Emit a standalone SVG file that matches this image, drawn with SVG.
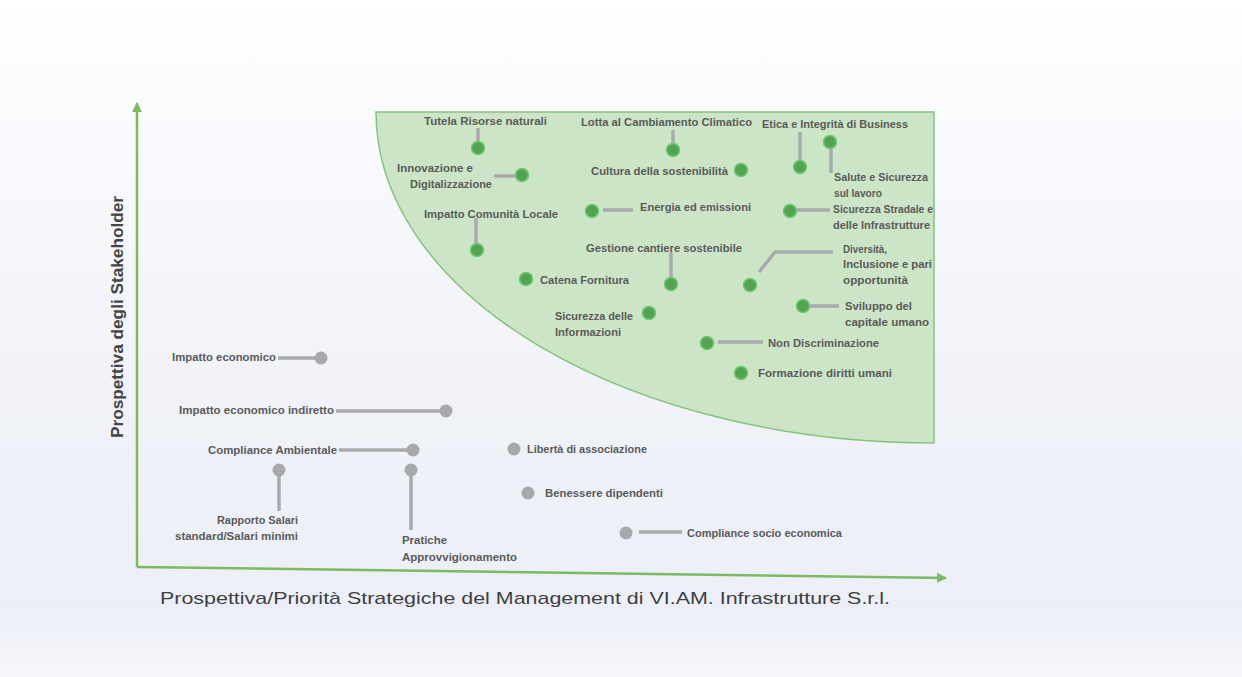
<svg xmlns="http://www.w3.org/2000/svg" width="1242" height="677" viewBox="0 0 1242 677">
<defs>
<linearGradient id="bg" x1="0" y1="0" x2="0" y2="1">
<stop offset="0" stop-color="#ffffff"/>
<stop offset="0.15" stop-color="#fafbfd"/>
<stop offset="0.6" stop-color="#f0f2f8"/>
<stop offset="0.9" stop-color="#eceff7"/>
<stop offset="1" stop-color="#f6f7fb"/>
</linearGradient>
<marker id="arr" viewBox="0 0 10 10" refX="9" refY="5" markerWidth="4" markerHeight="4" orient="auto" markerUnits="strokeWidth">
<path d="M0,0 L10,5 L0,10 Z" fill="#7cb95f"/>
</marker>
<style>
.lbl{font-family:"Liberation Sans",Arial,sans-serif;font-size:10.5px;font-weight:bold;fill:#5a5a5a}
.ttl{font-family:"Liberation Sans",Arial,sans-serif;font-size:17px;fill:#3f3f3f}
.ttlv{font-family:"Liberation Sans",Arial,sans-serif;font-size:16px;font-weight:bold;fill:#454545}
.gd{fill:#52a352;stroke:#72c872;stroke-width:1.5}
.yd{fill:#a7a8ac}
.ln{stroke:#a9aaae;stroke-width:3.5;fill:none;stroke-linecap:butt}
.ax{stroke:#7cb95f;stroke-width:2.5;fill:none}
</style>
</defs>
<rect x="0" y="0" width="1242" height="677" fill="url(#bg)"/>
<path id="zone" d="M376,112 L934,112 L934,443 A558,331 0 0 1 376,112 Z" fill="#cde5c7" stroke="#86c27e" stroke-width="1.5"/>
<g id="axes">
<path class="ax" d="M137,567 L137,103" marker-end="url(#arr)"/>
<path class="ax" d="M137,567 L946,578" marker-end="url(#arr)"/>
<text class="ttl" x="160" y="604" textLength="730" lengthAdjust="spacingAndGlyphs">Prospettiva/Priorità Strategiche del Management di VI.AM. Infrastrutture S.r.l.</text>
<text class="ttlv" transform="translate(123,317) rotate(-90)" x="0" y="0" text-anchor="middle" textLength="242" lengthAdjust="spacingAndGlyphs">Prospettiva degli Stakeholder</text>
</g>
<g id="connectors">
<path class="ln" d="M478,128 L478,141"/>
<path class="ln" d="M673,130 L673,143"/>
<path class="ln" d="M800,132 L800,160"/>
<path class="ln" d="M831,149 L831,173"/>
<path class="ln" d="M494,176 L515,176"/>
<path class="ln" d="M603,210 L633,210"/>
<path class="ln" d="M797,210 L830,210"/>
<path class="ln" d="M476,218 L476,243"/>
<path class="ln" d="M671,252 L671,277"/>
<path class="ln" d="M759,272 L775,252 L833,252"/>
<path class="ln" d="M810,306 L839,306"/>
<path class="ln" d="M718,342 L763,342"/>
<path class="ln" d="M278,358 L315,358"/>
<path class="ln" d="M336,411 L440,411"/>
<path class="ln" d="M339,450 L407,450"/>
<path class="ln" d="M279,475 L279,511"/>
<path class="ln" d="M411,475 L411,530"/>
<path class="ln" d="M639,532 L682,532"/>
</g>
<g id="n-tutela"><circle class="gd" cx="478" cy="148" r="6.5"/><text class="lbl" x="424" y="125" textLength="123" lengthAdjust="spacingAndGlyphs">Tutela Risorse naturali</text></g>
<g id="n-lotta"><circle class="gd" cx="673" cy="150" r="6.5"/><text class="lbl" x="581" y="126" textLength="171" lengthAdjust="spacingAndGlyphs">Lotta al Cambiamento Climatico</text></g>
<g id="n-etica"><circle class="gd" cx="800" cy="167" r="6.5"/><text class="lbl" x="762" y="128" textLength="146" lengthAdjust="spacingAndGlyphs">Etica e Integrità di Business</text></g>
<g id="n-salute"><circle class="gd" cx="830" cy="142" r="6.5"/><text class="lbl" x="834" y="181" textLength="94" lengthAdjust="spacingAndGlyphs">Salute e Sicurezza</text><text class="lbl" x="834" y="197" textLength="48" lengthAdjust="spacingAndGlyphs">sul lavoro</text></g>
<g id="n-innovazione"><circle class="gd" cx="522" cy="175" r="6.5"/><text class="lbl" x="397" y="172" textLength="76" lengthAdjust="spacingAndGlyphs">Innovazione e</text><text class="lbl" x="410" y="188" textLength="82" lengthAdjust="spacingAndGlyphs">Digitalizzazione</text></g>
<g id="n-cultura"><circle class="gd" cx="741" cy="170" r="6.5"/><text class="lbl" x="591" y="175" textLength="137" lengthAdjust="spacingAndGlyphs">Cultura della sostenibilità</text></g>
<g id="n-energia"><circle class="gd" cx="592" cy="211" r="6.5"/><text class="lbl" x="640" y="211" textLength="111" lengthAdjust="spacingAndGlyphs">Energia ed emissioni</text></g>
<g id="n-stradale"><circle class="gd" cx="790" cy="211" r="6.5"/><text class="lbl" x="833" y="213" textLength="100" lengthAdjust="spacingAndGlyphs">Sicurezza Stradale e</text><text class="lbl" x="833" y="229" textLength="97" lengthAdjust="spacingAndGlyphs">delle Infrastrutture</text></g>
<g id="n-comunita"><circle class="gd" cx="477" cy="250" r="6.5"/><text class="lbl" x="424" y="218" textLength="134" lengthAdjust="spacingAndGlyphs">Impatto Comunità Locale</text></g>
<g id="n-cantiere"><circle class="gd" cx="671" cy="284" r="6.5"/><text class="lbl" x="586" y="252" textLength="156" lengthAdjust="spacingAndGlyphs">Gestione cantiere sostenibile</text></g>
<g id="n-diversita"><circle class="gd" cx="750" cy="285" r="6.5"/><text class="lbl" x="843" y="253" textLength="44" lengthAdjust="spacingAndGlyphs">Diversità,</text><text class="lbl" x="843" y="268" textLength="89" lengthAdjust="spacingAndGlyphs">Inclusione e pari</text><text class="lbl" x="843" y="284" textLength="65" lengthAdjust="spacingAndGlyphs">opportunità</text></g>
<g id="n-catena"><circle class="gd" cx="526" cy="279" r="6.5"/><text class="lbl" x="540" y="284" textLength="89" lengthAdjust="spacingAndGlyphs">Catena Fornitura</text></g>
<g id="n-sviluppo"><circle class="gd" cx="803" cy="306" r="6.5"/><text class="lbl" x="845" y="310" textLength="67" lengthAdjust="spacingAndGlyphs">Sviluppo del</text><text class="lbl" x="845" y="326" textLength="84" lengthAdjust="spacingAndGlyphs">capitale umano</text></g>
<g id="n-informazioni"><circle class="gd" cx="649" cy="313" r="6.5"/><text class="lbl" x="555" y="320" textLength="78" lengthAdjust="spacingAndGlyphs">Sicurezza delle</text><text class="lbl" x="555" y="336" textLength="66" lengthAdjust="spacingAndGlyphs">Informazioni</text></g>
<g id="n-nondiscr"><circle class="gd" cx="707" cy="343" r="6.5"/><text class="lbl" x="768" y="347" textLength="111" lengthAdjust="spacingAndGlyphs">Non Discriminazione</text></g>
<g id="n-formazione"><circle class="gd" cx="741" cy="373" r="6.5"/><text class="lbl" x="758" y="377" textLength="134" lengthAdjust="spacingAndGlyphs">Formazione diritti umani</text></g>
<g id="n-impeco"><circle class="yd" cx="321" cy="358" r="6.5"/><text class="lbl" x="172" y="361" textLength="104" lengthAdjust="spacingAndGlyphs">Impatto economico</text></g>
<g id="n-impind"><circle class="yd" cx="446" cy="411" r="6.5"/><text class="lbl" x="179" y="414" textLength="155" lengthAdjust="spacingAndGlyphs">Impatto economico indiretto</text></g>
<g id="n-compamb"><circle class="yd" cx="413" cy="450" r="6.5"/><text class="lbl" x="208" y="454" textLength="129" lengthAdjust="spacingAndGlyphs">Compliance Ambientale</text></g>
<g id="n-salari"><circle class="yd" cx="279" cy="470" r="6.5"/><text class="lbl" x="298" y="524" text-anchor="end" textLength="81" lengthAdjust="spacingAndGlyphs">Rapporto Salari</text><text class="lbl" x="298" y="540" text-anchor="end" textLength="123" lengthAdjust="spacingAndGlyphs">standard/Salari minimi</text></g>
<g id="n-pratiche"><circle class="yd" cx="411" cy="470" r="6.5"/><text class="lbl" x="402" y="544" textLength="45" lengthAdjust="spacingAndGlyphs">Pratiche</text><text class="lbl" x="402" y="561" textLength="115" lengthAdjust="spacingAndGlyphs">Approvvigionamento</text></g>
<g id="n-liberta"><circle class="yd" cx="514" cy="449" r="6.5"/><text class="lbl" x="527" y="453" textLength="120" lengthAdjust="spacingAndGlyphs">Libertà di associazione</text></g>
<g id="n-benessere"><circle class="yd" cx="528" cy="493" r="6.5"/><text class="lbl" x="545" y="497" textLength="118" lengthAdjust="spacingAndGlyphs">Benessere dipendenti</text></g>
<g id="n-compsocio"><circle class="yd" cx="626" cy="533" r="6.5"/><text class="lbl" x="687" y="537" textLength="155" lengthAdjust="spacingAndGlyphs">Compliance socio economica</text></g>
</svg>
